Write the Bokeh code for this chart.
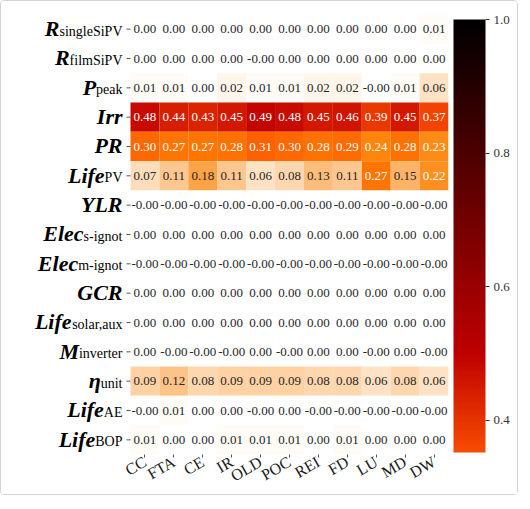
import math
from bokeh.plotting import figure
from bokeh.models import (ColumnDataSource, LinearColorMapper, ColorBar, FixedTicker,
                          Range1d, PrintfTickFormatter)
from bokeh.core.properties import value
from bokeh.embed import file_html
from bokeh.resources import INLINE

# ---------------- data ----------------
columns = ["CC", "FTA", "CE", "IR", "OLD", "POC", "REI", "FD", "LU", "MD", "DW"]
row_symbols = ["R", "R", "P", "Irr", "PR", "Life", "YLR", "Elec", "Elec", "GCR",
               "Life", "M", "η", "Life", "Life"]
row_subscripts = ["singleSiPV", "filmSiPV", "peak", "", "", "PV", "", "s-ignot", "m-ignot", "",
                  "solar,aux", "inverter", "unit", "AE", "BOP"]

r_singlesipv = [0.00, 0.00, 0.00, 0.00, 0.00, 0.00, 0.00, 0.00, 0.00, 0.00, 0.01]
r_filmsipv = [0.00, 0.00, 0.00, 0.00, -0.0, 0.00, 0.00, 0.00, 0.00, 0.00, 0.00]
p_peak = [0.01, 0.01, 0.00, 0.02, 0.01, 0.01, 0.02, 0.02, -0.0, 0.01, 0.06]
irr = [0.48, 0.44, 0.43, 0.45, 0.49, 0.48, 0.45, 0.46, 0.39, 0.45, 0.37]
pr = [0.30, 0.27, 0.27, 0.28, 0.31, 0.30, 0.28, 0.29, 0.24, 0.28, 0.23]
life_pv = [0.07, 0.11, 0.18, 0.11, 0.06, 0.08, 0.13, 0.11, 0.27, 0.15, 0.22]
ylr = [-0.0, -0.0, -0.0, -0.0, -0.0, -0.0, -0.0, -0.0, -0.0, -0.0, -0.0]
elec_s_ignot = [0.00, 0.00, 0.00, 0.00, 0.00, 0.00, 0.00, 0.00, 0.00, 0.00, 0.00]
elec_m_ignot = [-0.0, -0.0, -0.0, -0.0, -0.0, -0.0, -0.0, -0.0, -0.0, -0.0, -0.0]
gcr = [0.00, 0.00, 0.00, 0.00, 0.00, 0.00, 0.00, 0.00, 0.00, 0.00, 0.00]
life_solar_aux = [0.00, 0.00, 0.00, 0.00, 0.00, 0.00, 0.00, 0.00, 0.00, 0.00, 0.00]
m_inverter = [0.00, -0.0, -0.0, -0.0, 0.00, -0.0, 0.00, 0.00, -0.0, 0.00, -0.0]
eta_unit = [0.09, 0.12, 0.08, 0.09, 0.09, 0.09, 0.08, 0.08, 0.06, 0.08, 0.06]
life_ae = [-0.0, 0.01, 0.00, 0.00, -0.0, 0.00, -0.0, -0.0, -0.0, -0.0, -0.0]
life_bop = [0.01, 0.00, 0.00, 0.01, 0.01, 0.01, 0.00, 0.01, 0.00, 0.00, 0.00]

rows_values = [r_singlesipv, r_filmsipv, p_peak, irr, pr, life_pv, ylr, elec_s_ignot,
               elec_m_ignot, gcr, life_solar_aux, m_inverter, eta_unit, life_ae, life_bop]

colorbar_ticks = [0.4, 0.6, 0.8, 1.0]

# ---------------- colormap (gist_heat reversed) ----------------
def gist_heat_r(t):
    o = 1.0 - t
    r = min(1.0, 1.5 * o)
    g = max(0.0, min(1.0, 2 * o - 1))
    b = max(0.0, min(1.0, 4 * o - 3))
    return "#%02x%02x%02x" % (int(round(r * 255)), int(round(g * 255)), int(round(b * 255)))

palette = [gist_heat_r(i / 255) for i in range(256)]
mapper = LinearColorMapper(palette=palette, low=0.0, high=1.0)

# ---------------- cells ----------------
xs, ys, vals, labels, tcolors = [], [], [], [], []
for ri, rv in enumerate(rows_values):
    for ci, v in enumerate(rv):
        xs.append(ci)
        ys.append(ri)
        vals.append(v)
        labels.append(f"{v:.2f}")
        tcolors.append("#ffffff" if v > 0.2 else "#262626")
src = ColumnDataSource(dict(x=xs, y=ys, v=vals, label=labels, tc=tcolors))

n_rows = len(rows_values)
n_cols = len(columns)

# layout geometry (pixels)
cell_w = 318 / n_cols
cell_h = 440 / n_rows
label_area = 129
frame_w = label_area + 318
frame_h = 440

p = figure(frame_width=frame_w, frame_height=frame_h, output_backend="svg",
           toolbar_location=None, y_axis_location=None,
           x_range=Range1d(-0.5 - label_area / cell_w, n_cols - 0.5),
           y_range=Range1d(n_rows - 0.5, -0.5),
           min_border_left=0, min_border_top=13, min_border_bottom=38, min_border_right=0)
p.styles = {"border": "1px solid #d4d4d4", "border-radius": "4px"}
p.outline_line_color = None
p.grid.visible = False
p.background_fill_color = "white"

p.rect(x="x", y="y", width=1, height=1, source=src,
       fill_color={"field": "v", "transform": mapper}, line_color=None)
p.text(x="x", y="y", text="label", source=src, text_color="tc",
       text_align="center", text_baseline="middle",
       text_font=value("Liberation Serif"), text_font_size="13px")

# x axis
p.xaxis.ticker = FixedTicker(ticks=list(range(n_cols)))
p.xaxis.major_label_overrides = {i: c for i, c in enumerate(columns)}
p.xaxis.major_label_orientation = math.pi / 6
p.xaxis.major_label_text_font = "Liberation Serif"
p.xaxis.major_label_text_font_size = "16px"
p.xaxis.major_label_text_color = "#1a1a1a"
p.xaxis.major_label_standoff = 3
p.xaxis.axis_line_color = None
p.xaxis.major_tick_line_color = "#555555"
p.xaxis.major_tick_out = 3
p.xaxis.major_tick_in = 0
p.xaxis.minor_tick_line_color = None

# y tick marks at the heatmap's left edge
tick_len = 4 / cell_w
row_idx = list(range(n_rows))
p.segment(x0=[-0.5 - tick_len] * n_rows, x1=[-0.5] * n_rows, y0=row_idx, y1=row_idx,
          line_color="#555555", line_width=1)

# row labels: bold italic symbol + regular subscript
times_w = {"a": 444, "e": 444, "f": 333, "g": 500, "i": 278, "k": 500, "l": 278, "m": 778,
           "n": 500, "o": 500, "p": 500, "r": 333, "s": 389, "t": 278, "u": 500, "v": 500,
           "x": 500, "S": 556, "P": 556, "V": 722, "A": 722, "E": 611, "B": 667, "O": 722,
           "-": 333, ",": 250}
sub_size = 14
main_size = 22
gap = 8
sub_w = [sum(times_w.get(ch, 500) for ch in s) / 1000 * sub_size for s in row_subscripts]
lab_src = ColumnDataSource(dict(
    x=[-0.5] * n_rows,
    y_main=[i + 0.40 for i in range(n_rows)],
    y_sub=[i + 0.40 - 2.2 / cell_h for i in range(n_rows)],
    main=row_symbols,
    sub=row_subscripts,
    main_off=[-gap - w for w in sub_w],
    sub_off=[-gap] * n_rows,
))
p.text(x="x", y="y_main", text="main", source=lab_src, x_offset="main_off",
       text_align="right", text_baseline="bottom",
       text_font=value("Liberation Serif"), text_font_style="bold italic",
       text_font_size=f"{main_size}px", text_color="black")
p.text(x="x", y="y_sub", text="sub", source=lab_src, x_offset="sub_off",
       text_align="right", text_baseline="bottom",
       text_font=value("Liberation Serif"), text_font_size=f"{sub_size}px",
       text_color="black")

# colour bar
cb = ColorBar(color_mapper=mapper, display_low=0.355, display_high=1.0,
              ticker=FixedTicker(ticks=colorbar_ticks),
              formatter=PrintfTickFormatter(format="%.1f"),
              width=32, height=433, margin=0, padding=5,
              major_tick_in=0, major_tick_out=4, major_tick_line_color="#333333",
              major_label_text_font="Liberation Serif", major_label_text_font_size="13px",
              major_label_text_color="#333333", label_standoff=4,
              bar_line_color=None, border_line_color=None, background_fill_color=None,
              location="top")
p.add_layout(cb, "right")

open("out.html", "w").write(file_html(p, INLINE))
